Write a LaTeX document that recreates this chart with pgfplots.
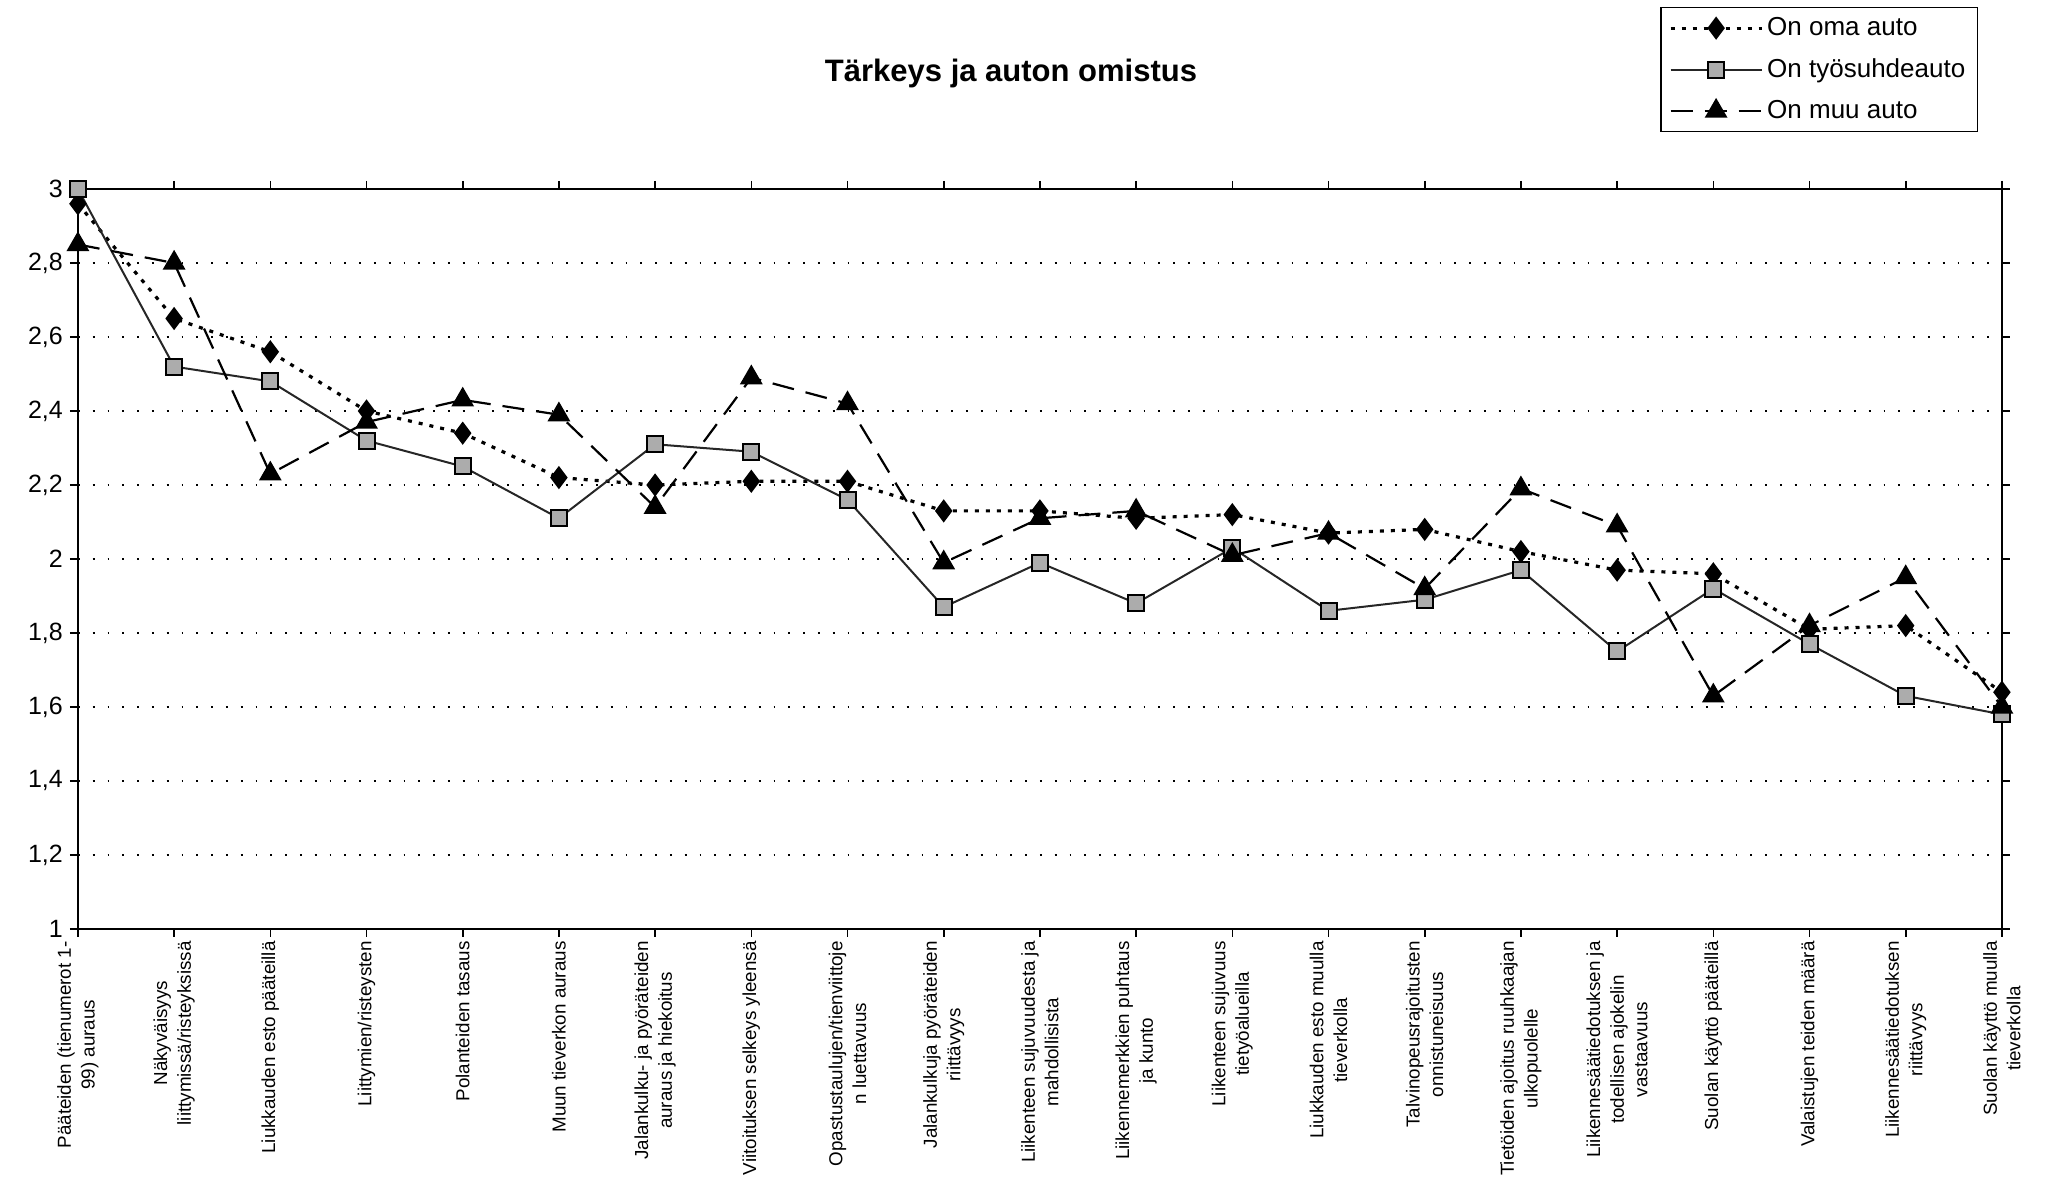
\documentclass[border=0pt]{standalone}
\usepackage{pgfplots}
\usepackage{pgfplotstable}
\pgfplotsset{compat=1.18}
\usepackage{fontspec}
\setmainfont{Liberation Sans}

% mean importance by car ownership, categories at 0..20
\pgfplotstableread{
x oma tyo muu
0 2.96 3.00 2.85
1 2.65 2.52 2.80
2 2.56 2.48 2.23
3 2.40 2.32 2.37
4 2.34 2.25 2.43
5 2.22 2.11 2.39
6 2.20 2.31 2.14
7 2.21 2.29 2.49
8 2.21 2.16 2.42
9 2.13 1.87 1.99
10 2.13 1.99 2.11
11 2.11 1.88 2.13
12 2.12 2.03 2.01
13 2.07 1.86 2.07
14 2.08 1.89 1.92
15 2.02 1.97 2.19
16 1.97 1.75 2.09
17 1.96 1.92 1.63
18 1.81 1.77 1.82
19 1.82 1.63 1.95
20 1.64 1.58 1.60
}\autot

\begin{document}
\begin{tikzpicture}
\begin{axis}[
    scale only axis,
    width=962pt, height=370pt,
    xmin=0, xmax=20, ymin=1, ymax=3,
    clip=false,
    axis line style={line width=1pt},
    tick style={black, line width=0.8pt},
    major tick length=4pt,
    tick align=outside,
    xtick={0,...,20},
    xticklabels={
        {Pääteiden (tienumerot 1-\\99) auraus},
        {Näkyväisyys\\liittymissä/risteyksissä},
        {Liukkauden esto pääteillä},
        {Liittymien/risteysten},
        {Polanteiden tasaus},
        {Muun tieverkon auraus},
        {Jalankulku- ja pyöräteiden\\auraus ja hiekoitus},
        {Viitoituksen selkeys yleensä},
        {Opastustaulujen/tienviittoje\\n luettavuus},
        {Jalankulkuja pyöräteiden\\riittävyys},
        {Liikenteen sujuvuudesta ja\\mahdollisista},
        {Liikennemerkkien puhtaus\\ja kunto},
        {Liikenteen sujuvuus\\tietyöalueilla},
        {Liukkauden esto muulla\\tieverkolla},
        {Talvinopeusrajoitusten\\onnistuneisuus},
        {Tietöiden ajoitus ruuhkaajan\\ulkopuolelle},
        {Liikennesäätiedotuksen ja\\todellisen ajokelin\\vastaavuus},
        {Suolan käyttö pääteillä},
        {Valaistujen teiden määrä},
        {Liikennesäätiedotuksen\\riittävyys},
        {Suolan käyttö muulla\\tieverkolla}},
    x tick label style={rotate=90, anchor=east, align=center,
        font=\fontsize{9.4}{11.8}\selectfont, inner sep=2pt},
    ytick={1,1.2,1.4,1.6,1.8,2,2.2,2.4,2.6,2.8,3},
    y tick label style={font=\fontsize{12.5}{15}\selectfont},
    yticklabel style={/pgf/number format/.cd, use comma, fixed, precision=1},
    /pgf/number format/assume math mode=true,
    ymajorgrids,
    grid style={black, line width=0.9pt, dash pattern=on 0.9pt off 6.5pt},
    title={Tärkeys ja auton omistus},
    title style={at={(0.485,1.14)}, anchor=center,
        font=\bfseries\fontsize{15.5}{18}\selectfont},
    legend style={at={(0.9875,1.246)}, anchor=north east, draw=black,
        line width=0.6pt, font=\fontsize{13}{15}\selectfont,
        cells={anchor=west}, row sep=6pt, inner xsep=4pt, inner ysep=3pt},
    legend image code/.code={%
        \draw[mark repeat=2,mark phase=2,#1]
        plot coordinates {(0cm,0cm) (0.8cm,0cm) (1.6cm,0cm)};},
]
\addplot[black, line width=1.6pt, dash pattern=on 2pt off 3.5pt,
    mark=diamond*, mark size=4.5pt, mark options={solid, fill=black}]
    table[x=x, y=oma] {\autot};
\addlegendentry{On oma auto}

\addplot[black!85, line width=1pt, solid,
    mark=square*, mark size=4pt, mark options={fill=gray!65, draw=black}]
    table[x=x, y=tyo] {\autot};
\addlegendentry{On työsuhdeauto}

\addplot[black, line width=1.1pt, dash pattern=on 11pt off 6pt,
    mark=triangle*, mark size=5.5pt, mark options={solid, fill=black}]
    table[x=x, y=muu] {\autot};
\addlegendentry{On muu auto}

\coordinate (bbsw) at (rel axis cs:-0.0405,-0.342);
\coordinate (bbne) at (rel axis cs:1.0224,1.2554);
\end{axis}
\pgfresetboundingbox
\useasboundingbox (bbsw) rectangle (bbne);
\end{tikzpicture}
\end{document}
